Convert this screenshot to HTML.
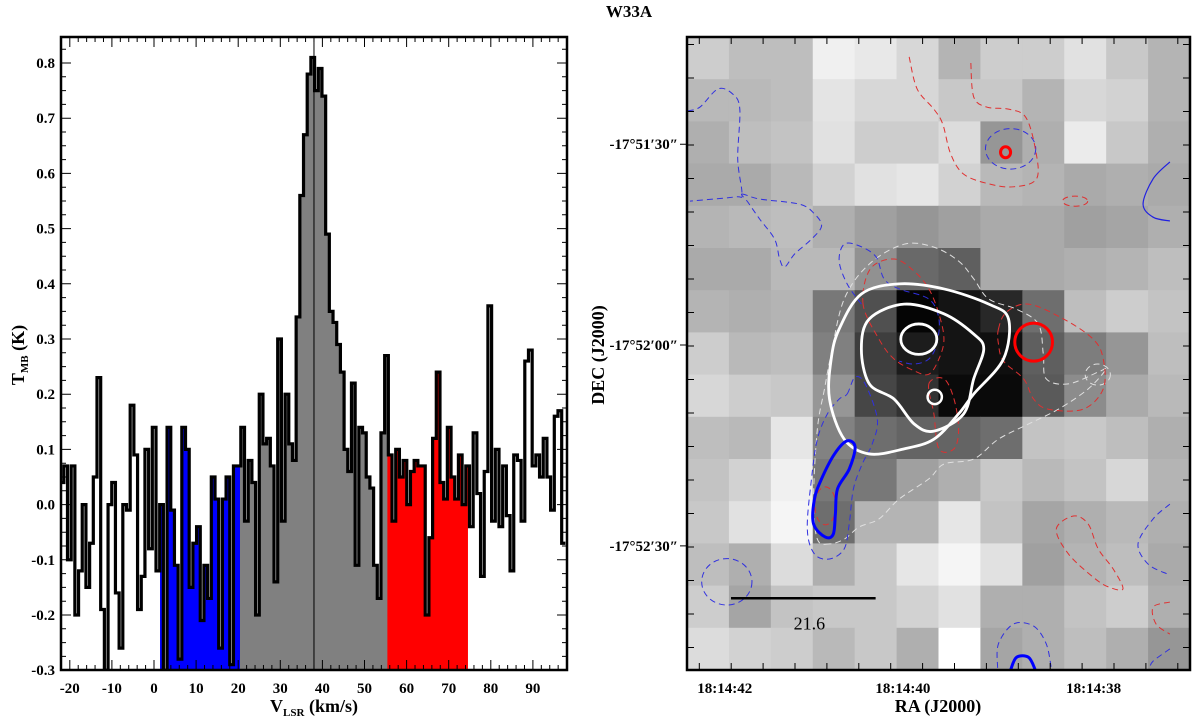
<!DOCTYPE html>
<html><head><meta charset="utf-8"><style>
html,body{margin:0;padding:0;background:#fff;}
svg text{font-family:"Liberation Serif",serif;font-weight:bold;}
</style></head><body>
<svg id="fig" width="1200" height="723" viewBox="0 0 1200 723" xmlns="http://www.w3.org/2000/svg">
<defs>
<clipPath id="specClip"><rect x="61" y="37" width="506" height="633"/></clipPath>
<clipPath id="mapClip"><rect x="687" y="37" width="503" height="633"/></clipPath>
</defs>
<text x="629" y="17" text-anchor="middle" font-size="17">W33A</text>
<g id="spec"></g>
<g id="map"></g>
<text x="314" y="712" text-anchor="middle" font-size="18">V<tspan font-size="11" dy="4">LSR</tspan><tspan dy="-4"> (km/s)</tspan></text>
<text transform="translate(24,355) rotate(-90)" text-anchor="middle" font-size="18">T<tspan font-size="11" dy="4">MB</tspan><tspan dy="-4"> (K)</tspan></text>
<text transform="translate(604,355) rotate(-90)" text-anchor="middle" font-size="18">DEC (J2000)</text>
<text x="938" y="712" text-anchor="middle" font-size="18">RA (J2000)</text>
</svg>
<script>
// ---------- spectrum data ----------
const specV0 = -22.3;
const specDV = 0.876;
const specValues = [0.04,0.07,-0.1,0.07,-0.2,-0.12,0.0,-0.15,-0.07,0.05,
0.23,-0.19,-0.3,0.0,0.04,-0.16,-0.26,0.0,-0.01,0.18,
0.09,-0.19,-0.13,0.1,-0.08,0.14,-0.12,0.0,-0.3,0.14,
-0.01,-0.11,-0.28,0.14,0.1,-0.15,-0.07,-0.04,-0.21,-0.11,
-0.17,0.05,0.01,-0.26,0.01,0.05,-0.29,0.07,0.07,0.14,
-0.03,0.08,0.04,-0.2,0.2,0.11,0.12,0.07,-0.14,0.3,
-0.03,0.2,0.11,0.08,0.34,0.56,0.67,0.78,0.81,0.75,
0.79,0.74,0.49,0.35,0.33,0.29,
0.24,0.1,0.06,0.22,-0.11,0.14,0.13,0.05,0.03,-0.11,-0.17,0.13,0.27,0.09,-0.03,0.1,0.05,0.08,0.0,0.06,
0.08,0.07,0.07,-0.2,-0.06,0.12,0.24,0.04,0.01,0.14,0.05,0.01,0.09,0.0,0.07,-0.04,0.13,0.02,-0.13,0.06,
0.36,-0.03,0.1,-0.04,0.07,-0.02,-0.12,0.09,0.08,-0.03,0.26,0.28,0.07,0.09,0.05,0.12,0.05,-0.01,0.16,0.17,-0.07];
const regionStarts = [1.5, 20.5, 55.5];
const regionEnds = [20.5, 55.5, 74.5];
const regionColors = ['#0000ff', '#808080', '#ff0000'];
const regionNames = ['blue-wing-fill', 'core-fill', 'red-wing-fill'];
const systemicV = 38;
const xTickLabels = [-20,-10,0,10,20,30,40,50,60,70,80,90];
const yTickLabels = [-0.3,-0.2,-0.1,0.0,0.1,0.2,0.3,0.4,0.5,0.6,0.7,0.8];

// ---------- map data ----------
const mapGray = [
[205,190,190,240,232,215,180,205,205,225,200,180],
[185,185,190,228,215,215,200,200,180,215,210,180],
[175,190,195,225,205,205,220,150,175,235,200,175],
[170,170,185,210,225,230,210,185,180,170,175,170],
[180,185,190,175,160,150,160,170,170,160,165,175],
[170,170,185,185,145,105,95,170,170,175,180,190],
[180,175,180,120,80,5,20,40,110,190,205,195],
[205,185,190,128,62,28,20,15,95,125,150,190],
[215,205,200,150,70,50,10,10,90,140,170,185],
[190,185,230,130,110,100,100,110,195,200,190,175],
[195,210,240,120,120,160,175,200,185,195,215,180],
[200,225,245,110,180,180,230,195,165,175,185,175],
[190,175,220,175,200,230,245,225,160,180,190,170],
[205,165,195,200,200,210,225,175,175,195,205,175],
[220,210,205,185,200,175,255,165,175,190,175,150]];
const raLabels = ['18:14:42','18:14:40','18:14:38'];
const raLabelCols = [0.9, 5.15, 9.7];
const decLabels = ['-17°51′30″','-17°52′00″','-17°52′30″'];
const decLabelRows = [2.54, 7.3, 12.06];
// contours in map-cell units [col,row]
const whiteOuter = [[3.63,6.92],[4.16,6.09],[5.06,5.85],[6.13,5.97],[7.2,6.33],[7.67,6.68],[7.55,7.63],[6.84,8.46],[6.48,8.93],[5.89,9.53],[5.18,9.76],[4.35,9.88],[3.75,9.53],[3.4,8.58],[3.44,7.63]];
const whiteMiddle = [[4.35,6.68],[5.18,6.33],[6.13,6.56],[6.84,7.04],[7.08,7.39],[6.84,8.1],[6.6,8.93],[5.89,9.34],[5.42,9.17],[4.94,8.58],[4.35,8.22],[4.16,7.39]];
const blueSolid = [[3.82,9.57],[4.01,9.72],[3.87,10.24],[3.59,10.71],[3.54,11.3],[3.49,11.78],[3.3,11.85],[3.02,11.54],[3.04,10.95],[3.21,10.47],[3.52,9.88]];
const blueSolidBottom = [[7.72,15],[7.86,14.7],[8.15,14.7],[8.31,15]];
const blueThinRight = [[11.52,2.96],[11.12,3.36],[10.88,3.96],[11.12,4.27],[11.52,4.36]];
const blueDashLeftA = [[0.02,1.75],[0.31,1.66],[0.74,1.23],[1.09,1.35],[1.26,1.71],[1.21,2.89],[1.31,3.72],[1.14,3.79],[0.07,3.89]];
const blueDashLeftB = [[1.31,3.72],[1.73,3.84],[2.68,3.96],[3.04,4.19],[3.21,4.48],[2.97,4.79],[2.57,5.14],[2.33,5.45],[2.21,5.26],[2.09,4.79],[1.73,4.31],[1.45,3.91]];
const blueDashCenter = [[4.16,6.33],[3.82,5.85],[3.63,5.31],[3.75,4.91],[4.11,4.95],[4.51,5.21],[4.7,5.73],[5.06,5.97],[5.77,6.21],[6.01,6.68],[5.96,7.27],[5.77,7.63],[5.42,7.75],[5.06,7.68]];
const blueDashAround = [[3.82,8.46],[4.01,8.06],[4.25,8.22],[4.54,9.05],[4.42,9.64],[4.18,10.12],[3.97,10.71],[3.87,11.54],[3.75,12.13],[3.4,12.37],[3.04,12.25],[2.87,11.66],[2.97,10.47],[3.11,9.53],[3.35,8.93],[3.63,8.58]];
const blueDashBottom = [[7.41,14.95],[7.43,14.38],[7.79,13.91],[8.27,13.96],[8.57,14.38],[8.69,14.95]];
const blueDashRightMid = [[11.52,11.07],[11.12,11.42],[10.76,12.01],[11.0,12.49],[11.47,12.73]];
const blueDashRightBot = [[11.52,14.5],[11.12,14.79],[11.04,14.95]];
const redDashTop = [[5.3,0.47],[5.49,1.23],[5.89,1.71],[6.1,2.06],[6.29,2.77],[6.6,3.25],[7.2,3.48],[7.79,3.55],[8.34,3.36],[8.31,2.65],[8.08,1.9],[7.67,1.71],[7.15,1.66],[6.84,1.42],[6.77,0.59]];
const redDashCenter = [[4.2,6.33],[4.37,5.5],[4.94,5.26],[5.42,5.55],[5.77,5.97],[6.01,6.56],[6.13,7.16],[6.01,7.63],[5.77,7.99],[5.42,7.91],[4.94,7.63],[4.58,7.16]];
const redDashLower = [[5.77,8.22],[6.13,8.1],[6.37,8.58],[6.48,9.29],[6.37,9.76],[6.01,9.76],[5.89,8.93]];
const redDashRight = [[7.43,6.92],[7.62,6.52],[8.15,6.33],[8.98,6.68],[9.69,7.16],[9.93,7.63],[9.93,8.34],[9.45,8.82],[8.62,8.82],[8.27,8.58],[8.03,8.1],[7.55,7.68],[7.43,7.27]];
const redDashBotRight = [[8.81,11.66],[9.22,11.35],[9.57,11.54],[9.81,12.13],[10.17,12.61],[10.4,13.08],[10.05,13.03],[9.69,12.8],[9.1,12.25]];
const redDashFarRight = [[11.52,13.39],[11.12,13.51],[11.19,13.91],[11.52,14.15]];
const whiteDash = [[3.4,12.01],[3.11,11.9],[3.02,10.95],[3.11,9.29],[3.28,8.34],[3.44,7.51],[3.75,6.21],[4.35,5.38],[5.18,4.91],[5.89,4.98],[6.48,5.31],[6.84,5.73],[7.2,6.21],[7.86,6.45],[8.38,6.8],[8.5,7.51],[8.57,8.1],[9.1,8.22],[9.81,7.94],[10.0,7.87],[9.57,8.34],[8.86,8.82],[8.15,9.17],[7.43,9.53],[6.84,10],[6.13,10.12],[5.77,10.47],[5.06,10.95],[4.58,11.42],[4.11,11.61],[3.75,11.9]];
// ellipses: [col,row,rx,ry]
const whiteInner = [5.53,7.16,0.43,0.36];
const whiteRing = [5.91,8.53,0.17,0.17];
const redCircle = [8.27,7.23,0.45,0.45];
const redSquare = [7.6,2.73,0.12,0.13];
const blueDashRing = [7.72,2.65,0.6,0.48];
const blueDashBL = [0.95,12.91,0.6,0.55];
const redDashSmall = [9.26,3.89,0.3,0.12];
const redDashInBlue = [3.3,11.11,0.25,0.45];
const whiteDashLoop = [9.8,8.0,0.3,0.25];
const scaleBarCols = [1.05, 4.5];
const scaleBarRow = 13.3;
const scaleBarLabel = '21.6';

const NS='http://www.w3.org/2000/svg';
function mk(tag, attrs, parent){const e=document.createElementNS(NS,tag);for(const k in attrs)e.setAttribute(k,attrs[k]);parent.appendChild(e);return e;}

// ---------- spectrum ----------
const spec=document.getElementById('spec');
const X0=61,X1=567,Y0=37,Y1=670;
function xV(v){return 154+v*4.21;}
function yT(t){return 63+(0.8-t)*552;}
const base=yT(-0.3);
const fillG=mk('g',{'clip-path':'url(#specClip)'},spec);


for(let r=0;r<regionStarts.length;r++){
  let d='';
  specValues.forEach((val,i)=>{
    const a=specV0+i*specDV,b=a+specDV;
    const lo=Math.max(a,regionStarts[r]),hi=Math.min(b,regionEnds[r]);
    if(hi>lo){const yy=yT(val);d+=`M${xV(lo)},${base}V${yy}H${xV(hi)}V${base}Z`;}
  });
  const p=mk('path',{d:d,fill:regionColors[r],stroke:regionColors[r],'stroke-width':0.6},fillG);
  
  
}
let hd='';
specValues.forEach((val,i)=>{
  const a=specV0+i*specDV,b=a+specDV,yy=yT(val);
  hd+=(i===0?`M${xV(a)},${yy}`:`V${yy}`)+`H${xV(b)}`;
});
const lineG=mk('g',{'clip-path':'url(#specClip)'},spec);
const hist=mk('path',{d:hd,fill:'none',stroke:'#000','stroke-width':3.2,'stroke-linejoin':'miter'},lineG);


const sys=mk('line',{x1:xV(systemicV),x2:xV(systemicV),y1:Y0,y2:Y1,stroke:'#000','stroke-width':1},spec);


// ticks
let td='';
for(let v=-22;v<=98;v+=2){const x=xV(v);if(x<X0||x>X1)continue;const L=(v%10===0)?10:5;td+=`M${x},${Y1}v${-L}M${x},${Y0}v${L}`;}
for(let k=-12;k<=34;k++){const t=k*0.025;const y=yT(t);if(y<Y0||y>Y1)continue;const L=(k%4===0)?10:5;td+=`M${X0},${y}h${L}M${X1},${y}h${-L}`;}
const ticks=mk('path',{d:td,stroke:'#000','stroke-width':1,fill:'none'},spec);


const frame=mk('rect',{x:X0,y:Y0,width:X1-X0,height:Y1-Y0,fill:'none',stroke:'#000','stroke-width':2.5},spec);


xTickLabels.forEach(v=>{
  const t=mk('text',{x:xV(v),y:693,'text-anchor':'middle','font-size':15},spec);
  
  
  t.textContent=String(v);
});
yTickLabels.forEach(v=>{
  const t=mk('text',{x:55,y:yT(v)+5,'text-anchor':'end','font-size':15},spec);
  
  
  t.textContent=(v===0?'0.0':v.toFixed(1));
});

// ---------- map ----------
const map=document.getElementById('map');
const MX0=687,MY0=37,CW=503/12,CH=633/15;
function mx(c){return MX0+c*CW;}
function my(r){return MY0+r*CH;}
const cellG=mk('g',{'clip-path':'url(#mapClip)'},map);


mapGray.forEach((row,r)=>row.forEach((g,c)=>{
  const e=mk('rect',{x:mx(c),y:my(r),width:CW+0.6,height:CH+0.6,fill:`rgb(${g},${g},${g})`},cellG);
  
  
}));
function smooth(pts,closed){
  const P=pts.map(p=>[mx(p[0]),my(p[1])]);const n=P.length;
  const get=i=>closed?P[(i+n)%n]:P[Math.max(0,Math.min(n-1,i))];
  let d=`M${P[0][0]},${P[0][1]}`;const m=closed?n:n-1;
  for(let i=0;i<m;i++){const p0=get(i-1),p1=get(i),p2=get(i+1),p3=get(i+2);
    d+=`C${p1[0]+(p2[0]-p0[0])/6},${p1[1]+(p2[1]-p0[1])/6} ${p2[0]-(p3[0]-p1[0])/6},${p2[1]-(p3[1]-p1[1])/6} ${p2[0]},${p2[1]}`;}
  return d+(closed?'Z':'');
}
const contG=mk('g',{'clip-path':'url(#mapClip)',fill:'none'},map);


function cont(pts,closed,color,w,dash,name){
  const e=mk('path',{d:smooth(pts,closed),stroke:color,'stroke-width':w},contG);
  if(dash)e.setAttribute('stroke-dasharray',dash);
  
  
}
function ell(a,color,w,dash,name){
  const e=mk('ellipse',{cx:mx(a[0]),cy:my(a[1]),rx:a[2]*CW,ry:a[3]*CH,stroke:color,'stroke-width':w,fill:'none'},contG);
  if(dash)e.setAttribute('stroke-dasharray',dash);
  
  
}
const BD='#3030e0',RD='#e03030',WD='#e0e0e0',DS='6,4';
cont(whiteDash,true,WD,1,DS,'white-dashed-contour');
ell(whiteDashLoop,WD,1,DS,'white-dashed-contour');
cont(blueDashLeftA,false,BD,1,DS,'blue-dashed-contour');
cont(blueDashLeftB,true,BD,1,DS,'blue-dashed-contour');
cont(blueDashCenter,false,BD,1,DS,'blue-dashed-contour');
cont(blueDashAround,true,BD,1,DS,'blue-dashed-contour');
cont(blueDashBottom,false,BD,1,DS,'blue-dashed-contour');
cont(blueDashRightMid,false,BD,1,DS,'blue-dashed-contour');
cont(blueDashRightBot,false,BD,1,DS,'blue-dashed-contour');
ell(blueDashRing,BD,1,DS,'blue-dashed-contour');
ell(blueDashBL,BD,1,DS,'blue-dashed-contour');
cont(redDashTop,false,RD,1,DS,'red-dashed-contour');
cont(redDashCenter,true,RD,1,DS,'red-dashed-contour');
cont(redDashLower,true,RD,1,DS,'red-dashed-contour');
cont(redDashRight,true,RD,1,DS,'red-dashed-contour');
cont(redDashBotRight,true,RD,1,DS,'red-dashed-contour');
cont(redDashFarRight,false,RD,1,DS,'red-dashed-contour');
ell(redDashSmall,RD,1,DS,'red-dashed-contour');
ell(redDashInBlue,RD,1,DS,'red-dashed-contour');
cont(blueThinRight,false,'#2020e0',1.2,null,'blue-solid-contour-thin');
cont(whiteOuter,true,'#fff',2.8,null,'white-contour-outer');
cont(whiteMiddle,true,'#fff',2.8,null,'white-contour-middle');
ell(whiteInner,'#fff',2.8,null,'white-contour-inner');
ell(whiteRing,'#fff',2.5,null,'white-contour-peak');
ell(redCircle,'#ff0000',3,null,'red-wing-contour');
ell(redSquare,'#ff0000',3,null,'red-wing-contour-small');
cont(blueSolid,true,'#0000ff',3,null,'blue-wing-contour');
cont(blueSolidBottom,false,'#0000ff',3,null,'blue-wing-contour-bottom');
// scale bar
const sb=mk('line',{x1:mx(scaleBarCols[0]),x2:mx(scaleBarCols[1]),y1:my(scaleBarRow),y2:my(scaleBarRow),stroke:'#000','stroke-width':2.5},map);


const sbt=mk('text',{x:(mx(scaleBarCols[0])+mx(scaleBarCols[1]))/2+6,y:my(scaleBarRow)+31,'text-anchor':'middle','font-size':18,'font-weight':'normal'},map);
sbt.setAttribute('style','font-weight:normal');


sbt.textContent=scaleBarLabel;
// map ticks
let mtd='';
for(let x=699.3;x<1190;x+=31.9){mtd+=`M${x},670v-7M${x},37v7`;}
for(let y=44.5;y<670;y+=33.5){mtd+=`M687,${y}h7M1190,${y}h-7`;}
decLabelRows.forEach(r=>{mtd+=`M680,${my(r)}h7`;});
const mt=mk('path',{d:mtd,stroke:'#000','stroke-width':1},map);


const mf=mk('rect',{x:687,y:37,width:503,height:633,fill:'none',stroke:'#000','stroke-width':2.5},map);


raLabels.forEach((s,i)=>{
  const t=mk('text',{x:mx(raLabelCols[i]),y:693,'text-anchor':'middle','font-size':15},map);
  
  
  t.textContent=s;
});
decLabels.forEach((s,i)=>{
  const t=mk('text',{x:678,y:my(decLabelRows[i])+5,'text-anchor':'end','font-size':15},map);
  
  
  t.textContent=s;
});
</script>
</body></html>
